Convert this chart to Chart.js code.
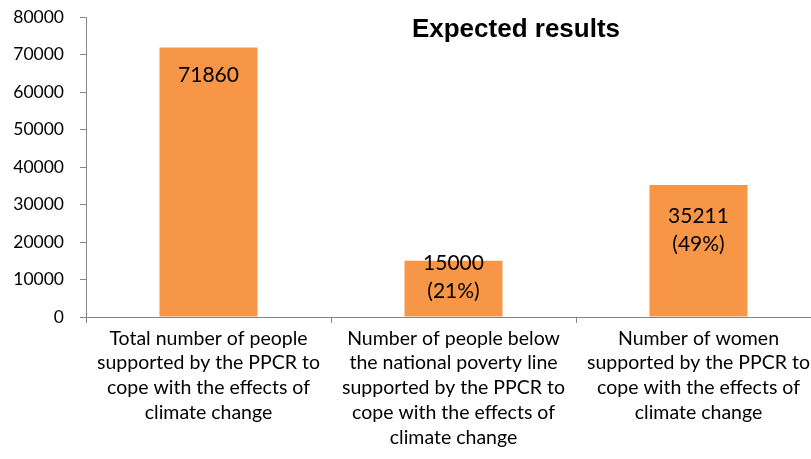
<!DOCTYPE html>
<html>
<head>
<meta charset="utf-8">
<script src="https://cdn.jsdelivr.net/npm/chart.js@4"></script>
<style>
	html, body { margin: 0; padding: 0; background: #ffffff; overflow: hidden; }
	#wrap { width: 830px; height: 459px; }
</style>
</head>
<body>
<div id="wrap"><canvas id="myChart" width="830" height="459"></canvas></div>
<script>
// Data
const categories = [
	["Total number of people", "supported by the PPCR to", "cope with the effects of", "climate change"],
	["Number of people below", "the national poverty line", "supported by the PPCR to", "cope with the effects of", "climate change"],
	["Number of women", "supported by the PPCR to", "cope with the effects of", "climate change"],
];
const values = [71860, 15000, 35211];
const valueLabels = [["71860"], ["15000", "(21%)"], ["35211", "(49%)"]];
const yTicks = [0, 10000, 20000, 30000, 40000, 50000, 60000, 70000, 80000];
const chartTitle = "Expected results";

// label offset below bar top, px
const labelOffsets = [28, 2, 31];

// Title + value labels
const extras = {
	id: "extras",
	afterDatasetsDraw(chart) {
		const ctx = chart.ctx;
		const area = chart.chartArea;
		ctx.save();
		ctx.fillStyle = "#000000";
		ctx.textAlign = "center";
		ctx.textBaseline = "middle";
		ctx.font = "bold 26px 'Liberation Sans', Arial, sans-serif";
		ctx.fillText(chartTitle, area.left + area.width * 0.585, 30);

		ctx.font = "21px Lato, sans-serif";
		chart.getDatasetMeta(0).data.forEach((bar, i) => {
			valueLabels[i].forEach((line, j) => {
				ctx.fillText(line, bar.x, bar.y + labelOffsets[i] + j * 28);
			});
		});
		ctx.restore();
	},
};

var ctx = document.getElementById("myChart").getContext("2d");
var myChart = new Chart(ctx, {
	type: "bar",
	data: {
		labels: categories,
		datasets: [
			{
				data: values,
				backgroundColor: "#F79646",
				borderWidth: 0,
				barPercentage: 0.4,
				categoryPercentage: 1,
			},
		],
	},
	plugins: [extras],
	options: {
		responsive: false,
		animation: false,
		layout: {
			padding: { top: 17, right: 9, left: 0, bottom: 0 },
		},
		plugins: {
			legend: { display: false },
			tooltip: { enabled: false },
			title: { display: false },
		},
		scales: {
			y: {
				min: 0,
				max: 80000,
				afterBuildTicks: (scale) => {
					scale.ticks = yTicks.map((v) => ({ value: v }));
				},
				afterFit: (scale) => {
					scale.width = 86;
					scale.paddingTop = 0;
					scale.paddingBottom = 0;
				},
				grid: {
					drawOnChartArea: false,
					drawTicks: true,
					tickLength: 6,
					color: "#868686",
				},
				border: { color: "#868686", width: 1 },
				ticks: {
					padding: 16,
					color: "#000000",
					font: { family: "Lato", size: 17.5 },
					callback: (value) => String(value),
				},
			},
			x: {
				afterFit: (scale) => {
					scale.height = 142;
				},
				grid: {
					offset: true,
					drawOnChartArea: false,
					drawTicks: true,
					tickLength: 6,
					color: "#868686",
				},
				border: { color: "#868686", width: 1 },
				ticks: {
					padding: 3,
					maxRotation: 0,
					autoSkip: false,
					color: "#000000",
					font: { family: "Lato", size: 19.5, lineHeight: 1.27 },
				},
			},
		},
	},
});
</script>
</body>
</html>
